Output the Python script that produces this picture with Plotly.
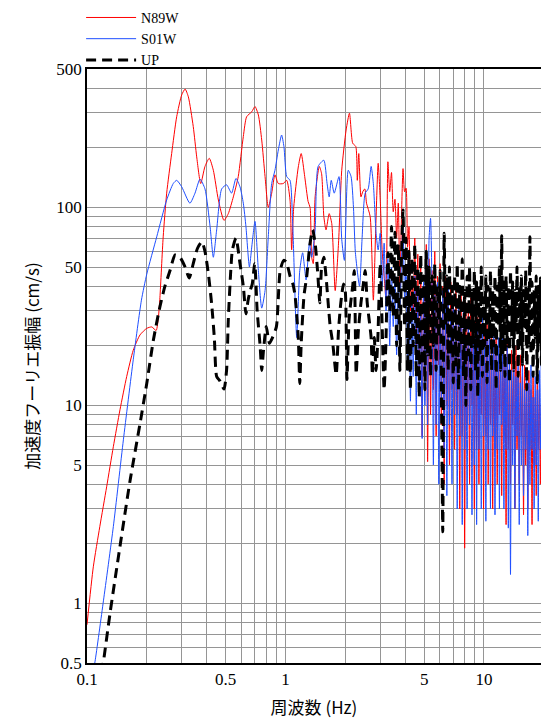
import plotly.graph_objects as go

# ---------------- data ----------------
# Low-frequency part, per series
N89W_F_LO = [0.100, 0.1076, 0.116, 0.1256, 0.1357, 0.1466, 0.1585, 0.171, 0.185, 0.200,
             0.212, 0.223, 0.229, 0.233, 0.242, 0.252, 0.267, 0.283, 0.300, 0.312,
             0.324, 0.343, 0.357, 0.374, 0.393, 0.413, 0.433, 0.459, 0.490, 0.515,
             0.546, 0.578, 0.613, 0.637, 0.676, 0.702, 0.730, 0.759, 0.789, 0.819,
             0.852, 0.885, 0.920, 0.975, 1.014, 1.054, 1.074, 1.10, 1.16, 1.20,
             1.25, 1.30, 1.33, 1.355, 1.38, 1.41, 1.48, 1.52, 1.56, 1.60,
             1.66, 1.71, 1.78, 1.85, 1.92, 2.02, 2.10, 2.18, 2.26, 2.30,
             2.34, 2.40, 2.45, 2.51, 2.56, 2.67, 2.77, 2.85, 2.93]
N89W_A_LO = [0.78, 1.53, 2.44, 3.88, 6.18, 9.5, 14, 19, 22.7, 24.5,
             24.9, 23.9, 28, 35, 71, 118, 187, 287, 370, 396,
             362, 256, 180, 132, 161, 177, 154, 109, 86, 93,
             113, 143, 228, 287, 304, 323, 293, 219, 143, 100,
             118, 146, 132, 132, 137, 109, 61, 100, 160, 187,
             143, 107, 100, 56, 52, 113, 161, 148, 90, 77,
             93, 83, 38, 66, 154, 246, 299, 211, 203, 137,
             187, 113, 120, 124, 105, 90, 34, 80, 167]

S01W_F_LO = [0.105, 0.1097, 0.121, 0.1357, 0.1525, 0.171, 0.188, 0.200, 0.2245, 0.252,
             0.272, 0.283, 0.300, 0.330, 0.350, 0.371, 0.393, 0.417, 0.433, 0.450,
             0.477, 0.505, 0.535, 0.563, 0.590, 0.613, 0.632, 0.658, 0.676, 0.702,
             0.730, 0.759, 0.789, 0.819, 0.852, 0.885, 0.920, 0.956, 0.982, 1.014,
             1.054, 1.087, 1.139, 1.18, 1.22, 1.27, 1.32, 1.355, 1.41, 1.46,
             1.56, 1.62, 1.66, 1.70, 1.76, 1.86, 1.92, 1.98, 2.07, 2.14,
             2.20, 2.25, 2.36, 2.43, 2.52, 2.61, 2.70, 2.77, 2.86, 2.93]
S01W_A_LO = [0.40, 0.507, 1.03, 2.44, 6.7, 17, 34, 46, 71, 109,
             132, 137, 127, 105, 118, 139, 124, 80, 56, 77,
             124, 130, 118, 140, 127, 105, 80, 50, 63, 85,
             48, 31, 38, 71, 132, 154, 195, 232, 203, 143,
             137, 83, 22, 48, 59, 43, 66, 56, 77, 161,
             173, 132, 113, 137, 118, 143, 69, 54, 154, 143,
             100, 59, 40, 69, 118, 124, 161, 132, 74, 61]

UP_F_LO = [0.115, 0.121, 0.1306, 0.1466, 0.165, 0.185, 0.200, 0.216, 0.233, 0.247,
           0.262, 0.278, 0.294, 0.312, 0.327, 0.343, 0.360, 0.379, 0.393, 0.410,
           0.424, 0.438, 0.450, 0.467, 0.490, 0.505, 0.515, 0.530, 0.540, 0.563,
           0.590, 0.613, 0.632, 0.648, 0.664, 0.680, 0.700, 0.720, 0.745, 0.759,
           0.775, 0.800, 0.830, 0.860, 0.900, 0.940, 0.980, 1.010, 1.054, 1.090,
           1.117, 1.160, 1.180, 1.200, 1.240, 1.280, 1.330, 1.370, 1.410, 1.450,
           1.490, 1.520, 1.560, 1.600, 1.640, 1.680, 1.730, 1.800, 1.850, 1.900,
           1.960, 2.000, 2.040, 2.090, 2.130, 2.180, 2.220, 2.270, 2.330, 2.400,
           2.460, 2.520, 2.580, 2.640, 2.700, 2.740, 2.800, 2.860, 2.920, 2.970]
UP_A_LO = [0.37, 0.507, 0.89, 1.94, 4.2, 8.1, 12.9, 21.4, 31.5, 40,
           48, 57.5, 56, 50, 44, 52, 62, 67, 60, 45,
           33, 22, 14, 13.3, 12.1, 15.1, 27, 48, 61, 70,
           52, 40, 29, 34, 38, 41, 52, 30, 20, 15,
           19, 25, 20.6, 22, 25, 48, 54, 53, 45, 41,
           36, 22, 12.9, 20.6, 36, 45, 66, 77, 66, 48,
           33, 50, 56, 45, 33, 25, 20.6, 14.3, 24, 33,
           41, 38, 13.5, 27, 33, 40, 48, 14.4, 24, 33,
           40, 48, 33, 27, 22, 14.3, 22, 15, 22, 40]

# High-frequency part, shared frequency grid
HF_FREQ = [3.00, 3.07, 3.14, 3.21, 3.28, 3.35, 3.42, 3.49, 3.56, 3.63, 3.70, 3.77, 3.84, 3.91, 3.98,
           4.05, 4.12, 4.19, 4.26, 4.33, 4.40,
           4.48, 4.56, 4.64, 4.72, 4.80, 4.88, 4.96, 5.04, 5.12, 5.20,
           5.29, 5.38, 5.47, 5.56, 5.65, 5.74, 5.83, 5.92, 6.01, 6.10,
           6.20, 6.30, 6.40, 6.50, 6.60, 6.70, 6.80, 6.90, 7.00,
           7.11, 7.22, 7.33, 7.44, 7.55, 7.66, 7.77, 7.88, 7.99, 8.10,
           8.22, 8.34, 8.46, 8.58, 8.70, 8.82, 8.94, 9.06, 9.18, 9.30,
           9.43, 9.56, 9.69, 9.82, 9.95, 10.08,
           10.22, 10.36, 10.50, 10.64, 10.78, 10.92,
           11.06, 11.21, 11.36, 11.51, 11.66, 11.81, 11.96,
           12.12, 12.28, 12.44, 12.60, 12.76, 12.92,
           13.09, 13.26, 13.43, 13.60, 13.77,
           13.95, 14.13, 14.31, 14.49, 14.67,
           14.86, 15.05, 15.24, 15.43, 15.62,
           15.82, 16.02, 16.22, 16.42, 16.62,
           16.83, 17.04, 17.25, 17.46, 17.67,
           17.89, 18.11, 18.33, 18.55, 18.77,
           19.00, 19.23, 19.46, 19.69, 19.92, 20.15]

N89W_A_HI = [110, 60, 45, 34, 170, 120, 150, 95, 110, 70, 105, 40, 90, 157, 120,
             125, 63, 80, 30, 45, 28,
             70, 20, 58, 12, 50, 7, 40, 15, 65, 5.2,
             55, 9, 48, 12, 60, 7, 45, 16, 52, 8,
             40, 4, 45, 10, 38, 5, 42, 12, 35,
             6, 40, 9, 30, 3, 38, 7, 28, 1.9, 33,
             8, 30, 4, 35, 10, 25, 3, 32, 6, 28,
             4, 30, 9, 26, 3, 24,
             7, 28, 4, 22, 8, 25,
             3, 20, 6, 24, 4, 18, 9,
             22, 3.5, 20, 7, 18, 2.5,
             21, 6, 16, 4, 19,
             8, 17, 3, 20, 6,
             15, 4, 18, 7, 14,
             2.8, 16, 5, 13, 3,
             15, 6, 12, 2.5, 14,
             5, 11, 3.5, 13, 6,
             12, 4, 10, 7, 15, 9]

S01W_A_HI = [74, 40, 66, 30, 55, 20, 50, 25, 45, 18, 40, 30, 55, 83, 35,
             50, 15, 40, 10.5, 35, 14,
             45, 9, 38, 12, 30, 6.8, 42, 10, 60, 8,
             70, 88, 40, 5, 36, 8, 42, 4, 30, 10,
             38, 6, 32, 3.5, 40, 8, 28, 4, 36,
             9, 30, 3, 34, 7, 25, 2.5, 30, 6, 22,
             3, 28, 8, 20, 2.8, 30, 5, 24, 2.5, 26,
             6, 22, 3, 28, 7, 20,
             2.6, 24, 6, 26, 3, 20,
             7, 23, 2.8, 18, 6, 22, 3,
             17, 8, 24, 3, 16, 6,
             20, 2.4, 18, 1.4, 15,
             5, 19, 3, 14, 7,
             18, 2.5, 13, 5, 17,
             3.5, 12, 6, 15, 2.2,
             13, 4, 16, 6, 11,
             3, 14, 5, 12, 2.6,
             15, 6, 20, 8, 25, 12]

UP_A_HI = [52, 25, 12, 22, 59, 30, 80, 28, 75, 20, 65, 15, 55, 97, 25,
           70, 15, 60, 12, 55, 20,
           65, 14, 50, 11, 58, 16, 45, 12, 60, 18,
           50, 14, 45, 20, 52, 15, 40, 22, 48, 12,
           2.3, 74, 25, 45, 15, 50, 18, 40, 13,
           45, 16, 52, 12, 40, 20, 55, 14, 38, 10,
           45, 18, 50, 12, 38, 20, 48, 15, 42, 11,
           40, 18, 50, 14, 35, 20,
           45, 13, 40, 22, 48, 15,
           38, 20, 45, 12, 40, 25, 50,
           15, 72, 18, 42, 14, 45,
           20, 40, 13, 48, 22,
           42, 15, 38, 24, 50,
           14, 40, 20, 45, 16,
           38, 25, 48, 12, 40,
           20, 71, 18, 42, 14,
           38, 22, 45, 13, 40,
           20, 44, 16, 38, 24, 42]

SERIES = ["N89W", "S01W", "UP"]
X_TICKS = [0.1, 0.5, 1, 5, 10]
X_TICK_TEXT = ["0.1", "0.5", "1", "5", "10"]
Y_TICKS = [0.5, 1, 5, 10, 50, 100, 500]
Y_TICK_TEXT = ["0.5", "1", "5", "10", "50", "100", "500"]


def join(f_lo, a_lo, a_hi):
    n = min(len(f_lo), len(a_lo))
    m = min(len(HF_FREQ), len(a_hi))
    return list(f_lo[:n]) + list(HF_FREQ[:m]), list(a_lo[:n]) + list(a_hi[:m])


nx, ny = join(N89W_F_LO, N89W_A_LO, N89W_A_HI)
sx, sy = join(S01W_F_LO, S01W_A_LO, S01W_A_HI)
ux, uy = join(UP_F_LO, UP_A_LO, UP_A_HI)

fig = go.Figure()
fig.add_trace(go.Scatter(x=nx, y=ny, mode="lines", name=SERIES[0],
                         line=dict(color="#ff0000", width=1, shape="spline", smoothing=0.6)))
fig.add_trace(go.Scatter(x=sx, y=sy, mode="lines", name=SERIES[1],
                         line=dict(color="#1f4fff", width=1, shape="spline", smoothing=0.6)))
fig.add_trace(go.Scatter(x=ux, y=uy, mode="lines", name=SERIES[2],
                         line=dict(color="#000000", width=3, dash="10px,6px",
                                   shape="spline", smoothing=0.6)))

# grid positions (1..9 x decade)
xgrid = []
for d in [0.1, 1, 10]:
    for k in range(1, 10):
        xgrid.append(round(k * d, 6))
xgrid.append(20)
ygrid = [0.5, 0.6, 0.7, 0.8, 0.9]
for d in [1, 10, 100]:
    for k in range(1, 10):
        ygrid.append(round(k * d, 6))
ygrid.append(500)

xtext = [X_TICK_TEXT[X_TICKS.index(v)] if v in X_TICKS else "" for v in xgrid]
ytext = [Y_TICK_TEXT[Y_TICKS.index(v)] if v in Y_TICKS else "" for v in ygrid]

tickfont = dict(family="Liberation Serif, DejaVu Serif, serif", size=17, color="#000")
cjk = "Noto Sans CJK JP, Noto Sans, sans-serif"

fig.update_xaxes(type="log", range=[-1, 1.2872], tickmode="array", tickvals=xgrid, ticktext=xtext,
                 showgrid=True, gridcolor="#959595", gridwidth=1.3, showline=True, linecolor="#000",
                 linewidth=1.5, mirror=True, ticks="", tickfont=tickfont, zeroline=False,
                 title=dict(text="周波数 (Hz)", font=dict(family=cjk, size=17, color="#000"), standoff=14))
fig.update_yaxes(type="log", range=[-0.30103, 2.69897], tickmode="array", tickvals=ygrid, ticktext=ytext,
                 showgrid=True, gridcolor="#959595", gridwidth=1.3, showline=True, linecolor="#000",
                 linewidth=1.5, mirror=False, ticks="", tickfont=tickfont, zeroline=False,
                 title=dict(text="加速度フーリエ振幅 (cm/s)", font=dict(family=cjk, size=17, color="#000"),
                            standoff=12))

fig.update_layout(
    width=541, height=722,
    margin=dict(l=87, r=0, t=69, b=59),
    plot_bgcolor="white", paper_bgcolor="white",
    legend=dict(x=-0.013, y=1.113, xanchor="left", yanchor="top", bgcolor="rgba(0,0,0,0)",
                font=dict(family="Liberation Serif, DejaVu Serif, serif", size=14, color="#000"),
                itemwidth=50, tracegroupgap=0),
)

fig.write_html("out.html")
